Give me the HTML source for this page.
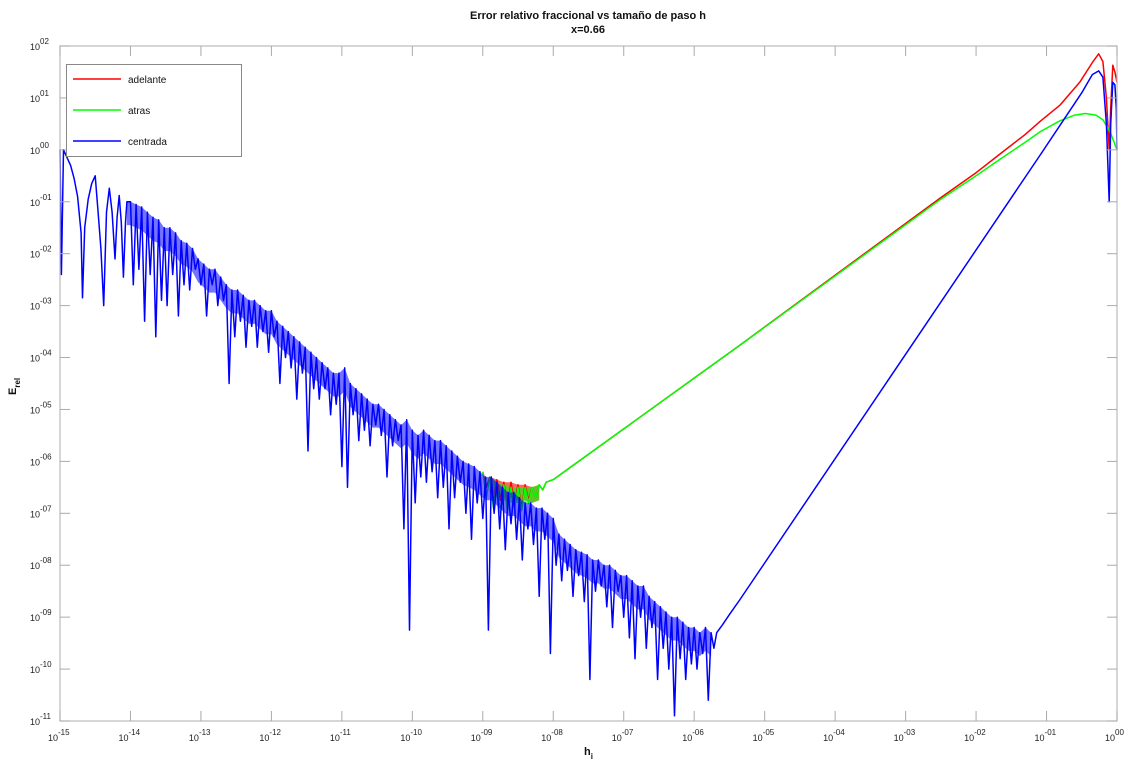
<!DOCTYPE html>
<html><head><meta charset="utf-8"><style>
html,body{margin:0;padding:0;background:#fff;}
svg{display:block;font-family:"Liberation Sans","DejaVu Sans",sans-serif;}
</style></head><body>
<svg id="chart" width="1142" height="770" viewBox="0 0 1142 770" xmlns="http://www.w3.org/2000/svg">
<rect x="0" y="0" width="1142" height="770" fill="#fff"/>
<text x="588" y="19" text-anchor="middle" font-size="11" font-weight="bold" fill="#111">Error relativo fraccional vs tamaño de paso h</text>
<text x="588" y="33" text-anchor="middle" font-size="11" font-weight="bold" fill="#111">x=0.66</text>
<g id="series"></g>
<g id="axes"></g>
<text x="584" y="755" font-size="11" font-weight="bold" fill="#111">h<tspan font-size="8" dy="4">i</tspan></text>
<g transform="translate(16,395) rotate(-90)"><text x="0" y="0" font-size="11" font-weight="bold" fill="#111">E<tspan font-size="8" dy="4">rel</tspan></text></g>
<g>
<rect x="66.5" y="64.5" width="175" height="92" fill="#fff" stroke="#888" stroke-width="1"/>
<g><line x1="73" y1="79" x2="121" y2="79" stroke="#f00" stroke-width="1.5"/><text x="128" y="83" font-size="10" fill="#111">adelante</text></g>
<g><line x1="73" y1="110" x2="121" y2="110" stroke="#0f0" stroke-width="1.5"/><text x="128" y="114" font-size="10" fill="#111">atras</text></g>
<g><line x1="73" y1="141" x2="121" y2="141" stroke="#00f" stroke-width="1.5"/><text x="128" y="145" font-size="10" fill="#111">centrada</text></g>
</g>
</svg>
<script>
// log10(h) and log10(E) values
const redX = [-9.0,-8.95,-8.9,-8.85,-8.8,-8.75,-8.7,-8.65,-8.6,-8.55,-8.5,-8.45,-8.4,-8.35,-8.3,-8.25,-8.2,-8.15,-8.1,-8.0,-5.35,-2.5,-2.0,-1.66,-1.3,-1.09,-0.81,-0.53,-0.35,-0.26,-0.2,-0.15,-0.11,-0.09,-0.06,-0.03,0];
const redY = [-6.2,-6.5,-6.3,-6.8,-6.35,-6.75,-6.4,-6.9,-6.4,-6.8,-6.45,-6.9,-6.45,-6.75,-6.5,-6.7,-6.45,-6.55,-6.4,-6.35,-3.76,-0.92,-0.44,-0.08,0.3,0.55,0.86,1.3,1.68,1.85,1.7,1.0,0.0,0.8,1.63,1.5,1.3];
const greenX = [-9.0,-8.95,-8.9,-8.85,-8.8,-8.75,-8.7,-8.65,-8.6,-8.55,-8.5,-8.45,-8.4,-8.35,-8.3,-8.25,-8.2,-8.15,-8.1,-8.0,-5.35,-2.5,-2.0,-1.66,-1.3,-1.09,-0.81,-0.6,-0.45,-0.3,-0.2,-0.1,0];
const greenY = [-6.2,-6.7,-6.3,-6.9,-6.4,-7.0,-6.45,-6.95,-6.5,-6.9,-6.5,-6.95,-6.5,-6.8,-6.5,-6.7,-6.45,-6.55,-6.4,-6.35,-3.76,-0.95,-0.5,-0.18,0.15,0.35,0.56,0.67,0.7,0.67,0.58,0.35,0.0];
const blueX = [-15,-14.98,-14.95,-14.9,-14.85,-14.8,-14.75,-14.7,-14.68,-14.65,-14.6,-14.55,-14.5,-14.46,-14.42,-14.38,-14.34,-14.3,-14.26,-14.22,-14.19,-14.16,-14.13,-14.1,-14.07,-14.05,
-14.00,-13.96,-13.92,-13.88,-13.84,-13.80,-13.76,-13.72,-13.68,-13.64,-13.60,-13.56,-13.52,-13.48,-13.44,-13.40,-13.36,-13.32,-13.28,-13.24,-13.20,-13.16,-13.12,-13.08,-13.04,-13.00,
-12.96,-12.92,-12.88,-12.84,-12.80,-12.76,-12.72,-12.68,-12.64,-12.60,-12.56,-12.52,-12.48,-12.44,-12.40,-12.36,-12.32,-12.28,-12.24,-12.20,-12.16,-12.12,-12.08,-12.04,-12.00,
-11.96,-11.92,-11.88,-11.84,-11.80,-11.76,-11.72,-11.68,-11.64,-11.60,-11.56,-11.52,-11.48,-11.44,-11.40,-11.36,-11.32,-11.28,-11.24,-11.20,-11.16,-11.12,-11.08,-11.04,-11.00,
-10.96,-10.92,-10.88,-10.84,-10.80,-10.76,-10.72,-10.68,-10.64,-10.60,-10.56,-10.52,-10.48,-10.44,-10.40,-10.36,-10.32,-10.28,-10.24,-10.20,-10.16,-10.12,-10.08,-10.04,-10.00,
-9.96,-9.92,-9.88,-9.84,-9.80,-9.76,-9.72,-9.68,-9.64,-9.60,-9.56,-9.52,-9.48,-9.44,-9.40,-9.36,-9.32,-9.28,-9.24,-9.20,-9.16,-9.12,-9.08,-9.04,-9.00,
-8.96,-8.92,-8.88,-8.84,-8.80,-8.76,-8.72,-8.68,-8.64,-8.60,-8.56,-8.52,-8.48,-8.44,-8.40,-8.36,-8.32,-8.28,-8.24,-8.20,-8.16,-8.12,-8.08,-8.04,-8.00,
-7.96,-7.92,-7.88,-7.84,-7.80,-7.76,-7.72,-7.68,-7.64,-7.60,-7.56,-7.52,-7.48,-7.44,-7.40,-7.36,-7.32,-7.28,-7.24,-7.20,-7.16,-7.12,-7.08,-7.04,-7.00,
-6.96,-6.92,-6.88,-6.84,-6.80,-6.76,-6.72,-6.68,-6.64,-6.60,-6.56,-6.52,-6.48,-6.44,-6.40,-6.36,-6.32,-6.28,-6.24,-6.20,-6.16,-6.12,-6.08,-6.04,-6.00,
-5.96,-5.92,-5.88,-5.84,-5.80,-5.76,-5.72,-5.68,-5.6,-5.5,-5.35,-1.09,-0.5,-0.35,-0.26,-0.2,-0.15,-0.11,-0.09,-0.06,-0.03,-0.01,0];
const blueY = [0,-2.4,0,-0.15,-0.3,-0.55,-0.9,-1.6,-2.85,-1.5,-0.95,-0.65,-0.5,-1.2,-1.9,-3.0,-1.2,-0.74,-1.2,-2.1,-1.3,-0.88,-1.4,-2.45,-1.4,-1.0,
-1.0,-2.6,-1.05,-2.3,-1.1,-3.3,-1.2,-2.4,-1.3,-3.6,-1.35,-2.9,-1.5,-3.0,-1.5,-2.4,-1.6,-3.2,-1.75,-2.6,-1.8,-2.7,-1.9,-2.3,-2.1,-2.6,
-2.2,-3.2,-2.3,-2.6,-2.3,-3.0,-2.45,-2.9,-2.6,-4.5,-2.7,-3.6,-2.7,-3.3,-2.8,-3.8,-2.9,-3.4,-2.9,-3.8,-3.0,-3.5,-3.1,-3.9,-3.1,
-3.6,-3.3,-4.5,-3.4,-4.0,-3.5,-4.2,-3.6,-4.8,-3.7,-4.3,-3.8,-5.8,-3.9,-4.6,-4.0,-4.8,-4.1,-4.6,-4.2,-5.1,-4.3,-4.9,-4.3,-6.1,
-4.2,-6.5,-4.5,-5.1,-4.6,-5.6,-4.7,-5.4,-4.8,-5.7,-4.9,-5.3,-4.9,-5.5,-5.0,-6.3,-5.1,-5.7,-5.2,-5.6,-5.3,-7.3,-5.2,-9.25,-5.4,
-6.8,-5.5,-6.3,-5.4,-6.4,-5.5,-6.2,-5.6,-6.7,-5.6,-6.5,-5.7,-7.3,-5.8,-6.7,-5.9,-6.4,-6.0,-7.0,-6.05,-7.5,-6.1,-6.8,-6.2,-7.1,
-6.3,-9.25,-6.3,-7.0,-6.4,-7.3,-6.5,-7.7,-6.6,-7.2,-6.6,-7.5,-6.7,-7.9,-6.8,-7.3,-6.8,-7.6,-6.9,-8.6,-6.9,-7.5,-7.0,-9.7,-7.1,
-8.0,-7.4,-8.3,-7.5,-8.1,-7.6,-8.6,-7.7,-8.2,-7.75,-8.7,-7.8,-10.2,-7.9,-8.5,-7.9,-8.4,-8.0,-8.8,-8.0,-9.2,-8.1,-8.5,-8.2,-9.0,
-8.2,-9.4,-8.3,-9.8,-8.4,-9.0,-8.4,-9.6,-8.6,-9.2,-8.7,-10.2,-8.8,-9.6,-8.9,-10.0,-9.0,-10.9,-9.0,-9.8,-9.1,-10.2,-9.2,-9.9,-9.2,
-10.0,-9.3,-9.7,-9.2,-10.6,-9.3,-9.6,-9.3,-9.15,-8.95,-8.66,-0.1,1.1,1.45,1.52,1.4,0.5,-1.0,0.5,1.3,1.25,0.8,0];
const xTickExp = [-15,-14,-13,-12,-11,-10,-9,-8,-7,-6,-5,-4,-3,-2,-1,0];
const xTickLabels = ["-15","-14","-13","-12","-11","-10","-09","-08","-07","-06","-05","-04","-03","-02","-01","00"];
const yTickExp = [2,1,0,-1,-2,-3,-4,-5,-6,-7,-8,-9,-10,-11];
const yTickLabels = ["02","01","00","-01","-02","-03","-04","-05","-06","-07","-08","-09","-10","-11"];

const NS="http://www.w3.org/2000/svg";
const L=60,R=1117,T=46,B=721,XMIN=-15,XMAX=0,YMIN=-11,YMAX=2;
function sx(v){return L+(v-XMIN)/(XMAX-XMIN)*(R-L);}
function sy(v){return B-(v-YMIN)/(YMAX-YMIN)*(B-T);}
function mk(tag,attrs,parent){const e=document.createElementNS(NS,tag);for(const k in attrs)e.setAttribute(k,attrs[k]);parent.appendChild(e);return e;}
const series=document.getElementById('series');
function drawLine(xs,ys,color,name){
  let d='';
  for(let i=0;i<xs.length;i++){d+=(i?'L':'M')+sx(xs[i]).toFixed(1)+','+sy(ys[i]).toFixed(1);}
  const p=mk('path',{d:d,fill:'none',stroke:color,'stroke-width':1.5,'stroke-linejoin':'round'},series);
  
  
}
// noise band: area under local maxima (noisy region only)
function drawBand(xs,ys,x0,x1,depth,color,op,name){
  const top=[];
  for(let i=1;i<xs.length-1;i++){
    if(xs[i]<x0||xs[i]>x1)continue;
    if(ys[i]>=ys[i-1]&&ys[i]>=ys[i+1])top.push([xs[i],ys[i]]);
  }
  if(top.length<2)return;
  let d='';
  top.forEach((p,i)=>{d+=(i?'L':'M')+sx(p[0]).toFixed(1)+','+sy(p[1]).toFixed(1);});
  for(let i=top.length-1;i>=0;i--){d+='L'+sx(top[i][0]).toFixed(1)+','+sy(top[i][1]-depth).toFixed(1);}
  d+='Z';
  const p=mk('path',{d:d,fill:color,'fill-opacity':op,stroke:'none'},series);
  
  
}
drawBand(redX,redY,-9.0,-8.05,0.3,'#f00',0.6,'band-adelante');
drawBand(greenX,greenY,-9.0,-8.05,0.3,'#0f0',0.6,'band-atras');
drawLine(redX,redY,'#f00','series-adelante');
drawLine(greenX,greenY,'#0f0','series-atras');
drawBand(blueX,blueY,-14.1,-5.7,0.45,'#00f',0.55,'band-centrada');
drawLine(blueX,blueY,'#00f','series-centrada');

const axes=document.getElementById('axes');
const frame=mk('rect',{x:L,y:T,width:R-L,height:B-T,fill:'none',stroke:'#bbb','stroke-width':1.2},axes);


xTickExp.forEach((e,i)=>{
  const x=sx(e);
  mk('line',{x1:x,y1:B,x2:x,y2:B-10,stroke:'#aaa','stroke-width':1},axes);
  mk('line',{x1:x,y1:T,x2:x,y2:T+10,stroke:'#aaa','stroke-width':1},axes);
  const t=mk('text',{x:x-12,y:741,'font-size':9,fill:'#222'},axes);
  
  
  t.textContent='10';
  const s=mk('tspan',{dy:-6,'font-size':8},t);s.textContent=xTickLabels[i];
});
yTickExp.forEach((e,i)=>{
  const y=sy(e);
  mk('line',{x1:L,y1:y,x2:L+10,y2:y,stroke:'#aaa','stroke-width':1},axes);
  mk('line',{x1:R,y1:y,x2:R-10,y2:y,stroke:'#aaa','stroke-width':1},axes);
  const t=mk('text',{x:30,y:y+4,'font-size':9,fill:'#222'},axes);
  
  
  t.textContent='10';
  const s=mk('tspan',{dy:-6,'font-size':8},t);s.textContent=yTickLabels[i];
});
</script>
</body></html>
